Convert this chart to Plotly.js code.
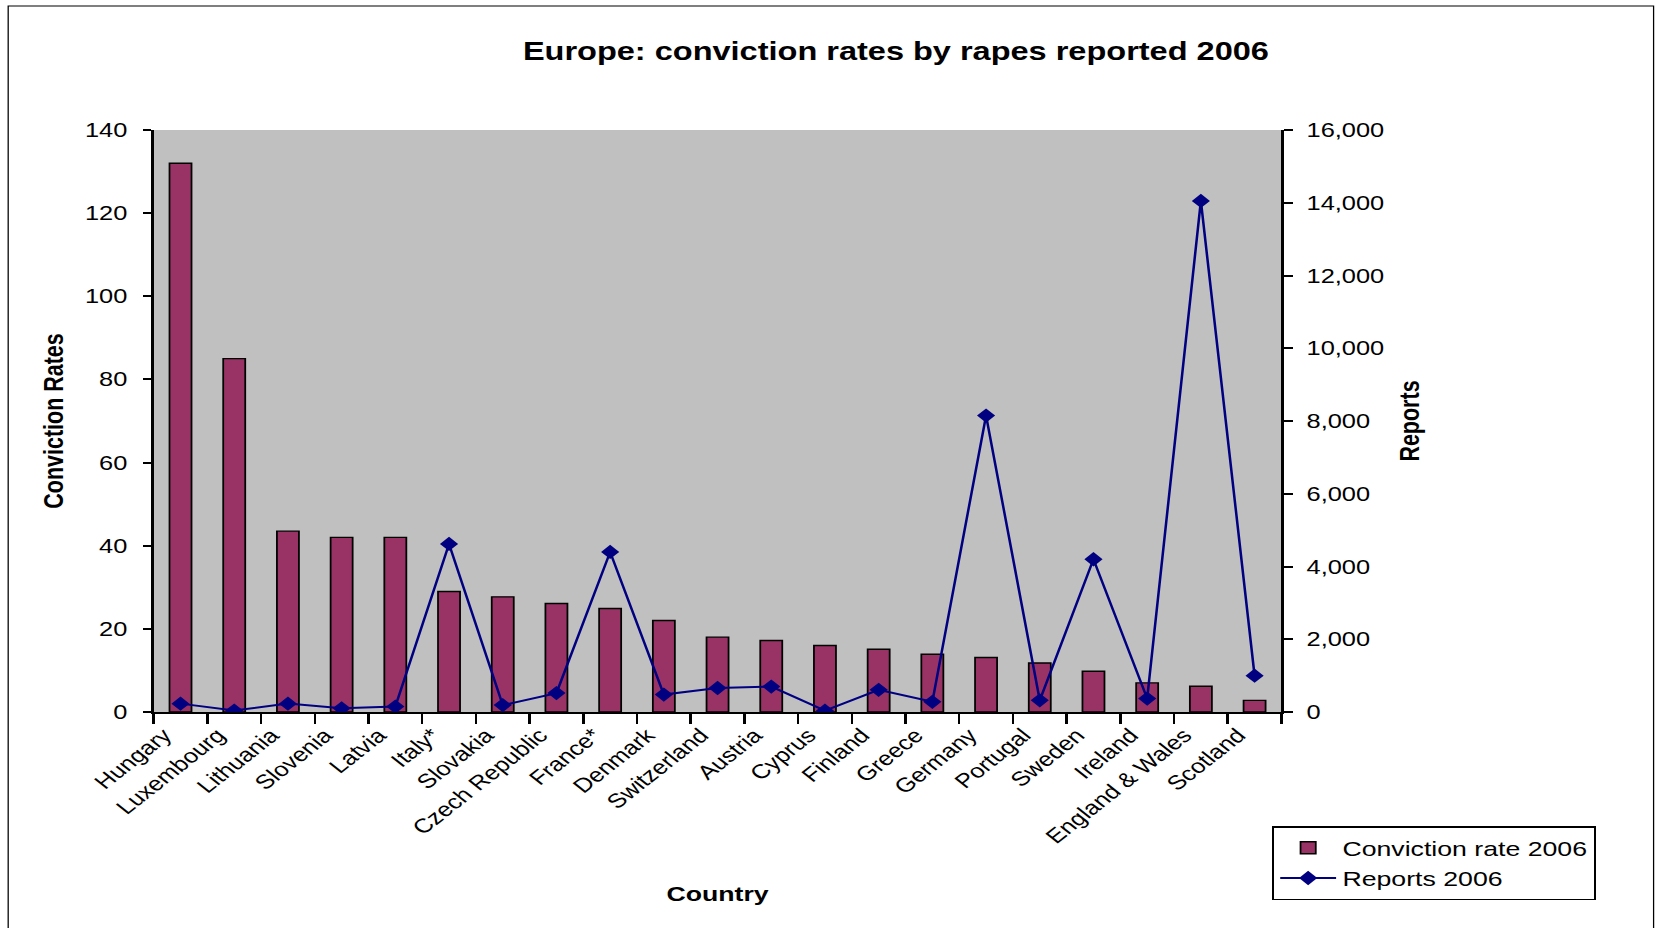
<!DOCTYPE html>
<html>
<head>
<meta charset="utf-8">
<script src="https://cdn.plot.ly/plotly-3.0.1.min.js"></script>
<style>
  html, body { margin: 0; padding: 0; background: #ffffff; overflow: hidden; }
  #wrap { width: 1664px; height: 928px; overflow: hidden; position: relative; }
  #chart { width: 1310px; height: 928px; transform: scaleX(1.27); transform-origin: 0 0; }
</style>
</head>
<body>
<div id="wrap"><div id="chart"></div></div>
<script>
// ---- data ----
const countries = ["Hungary", "Luxembourg", "Lithuania", "Slovenia", "Latvia", "Italy*", "Slovakia",
  "Czech Republic", "France*", "Denmark", "Switzerland", "Austria", "Cyprus", "Finland", "Greece",
  "Germany", "Portugal", "Sweden", "Ireland", "England & Wales", "Scotland"];
const convictionRate2006 = [132, 85, 43.5, 42, 42, 29, 27.7, 26.1, 24.9, 22, 18, 17.2, 16, 15.1, 13.9,
  13.1, 11.8, 9.8, 7, 6.2, 2.8];
const reports2006 = [230, 40, 230, 100, 150, 4620, 190, 520, 4400, 480, 660, 700, 35, 610, 280,
  8150, 320, 4200, 370, 14050, 1000];
const leftTicks = [0, 20, 40, 60, 80, 100, 120, 140];
const rightTicks = [0, 2000, 4000, 6000, 8000, 10000, 12000, 14000, 16000];

const FONT = "Liberation Sans, Arial, Helvetica, sans-serif";

const traces = [
  {
    type: "bar",
    name: "Conviction rate 2006",
    x: countries,
    y: convictionRate2006,
    width: 0.41,
    marker: { color: "#993366", line: { color: "#000000", width: 1.4 } },
    legendgroup: "a",
    xaxis: "x", yaxis: "y"
  },
  {
    type: "scatter",
    mode: "lines+markers",
    name: "Reports 2006",
    x: countries,
    y: reports2006,
    line: { color: "#000080", width: 2 },
    marker: { symbol: "diamond", size: 11, color: "#000080" },
    legendgroup: "b",
    xaxis: "x", yaxis: "y2"
  }
];

const layout = {
  width: 1310,
  height: 928,
  margin: { l: 121, r: 301, t: 130, b: 216, pad: 0 },
  paper_bgcolor: "#ffffff",
  plot_bgcolor: "#C0C0C0",
  font: { family: FONT, color: "#000000", size: 20 },
  showlegend: true,
  title: {
    text: "Europe: conviction rates by rapes reported 2006",
    font: { family: FONT, size: 25.6, weight: "bold", color: "#000000" },
    xref: "container", x: 0.5385, xanchor: "center",
    yref: "container", y: 0.945, yanchor: "middle"
  },
  xaxis: {
    type: "category",
    range: [-0.5, 20.5],
    tickson: "boundaries",
    ticks: "outside", ticklen: 10, tickwidth: 1.5, tickcolor: "#000000",
    showline: true, linecolor: "#000000", linewidth: 1.5,
    showgrid: false, zeroline: false,
    tickangle: -45,
    ticklabelshift: -13,
    ticklabelstandoff: 2,
    tickfont: { family: FONT, size: 20, color: "#000000" },
    title: { text: "Country", font: { family: FONT, size: 21, weight: "bold" }, standoff: 40 }
  },
  yaxis: {
    range: [0, 140],
    tickvals: leftTicks,
    ticks: "outside", ticklen: 7, tickwidth: 1.5, tickcolor: "#000000",
    showline: true, linecolor: "#000000", linewidth: 1.5,
    showgrid: false, zeroline: false,
    ticklabelstandoff: 8,
    tickfont: { family: FONT, size: 20, color: "#000000" },
    title: { text: "Conviction Rates", font: { family: FONT, size: 21.5, weight: "bold" }, standoff: 11 }
  },
  yaxis2: {
    overlaying: "y",
    side: "right",
    range: [0, 16000],
    tickvals: rightTicks,
    tickformat: ",d",
    ticks: "outside", ticklen: 7, tickwidth: 1.5, tickcolor: "#000000",
    showline: true, linecolor: "#000000", linewidth: 1.5,
    showgrid: false, zeroline: false,
    ticklabelstandoff: 7,
    tickfont: { family: FONT, size: 20, color: "#000000" },
    title: { text: "Reports", font: { family: FONT, size: 21.5, weight: "bold" }, standoff: 13 }
  },
  legend: {
    x: 0.9916, xanchor: "left",
    y: -0.196, yanchor: "top",
    bgcolor: "#ffffff",
    bordercolor: "#000000", borderwidth: 1.5,
    font: { family: FONT, size: 21, color: "#000000" },
    tracegroupgap: 12,
    itemwidth: 44,
    traceorder: "normal"
  },
  shapes: [
    {
      type: "rect", xref: "paper", yref: "paper",
      x0: -0.129, x1: 1.330, y0: -0.40, y1: 1.213,
      line: { color: "#000000", width: 1 }, fillcolor: "rgba(0,0,0,0)", layer: "below"
    }
  ]
};

Plotly.newPlot("chart", traces, layout, { displayModeBar: false, responsive: false });
</script>
</body>
</html>
